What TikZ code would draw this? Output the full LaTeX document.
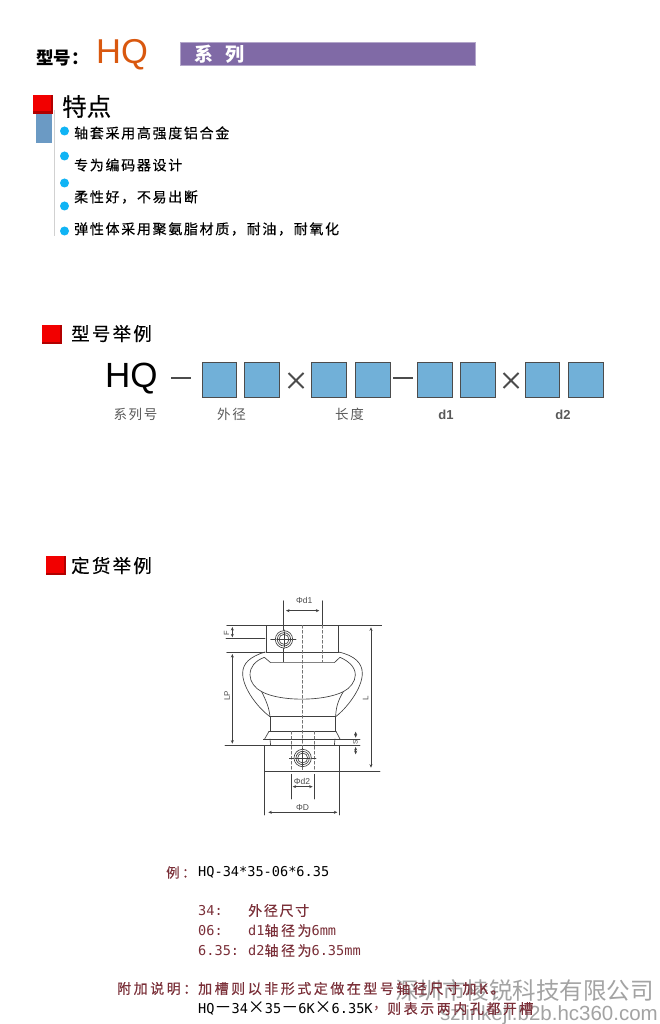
\documentclass[tikz,border=0pt]{standalone}
\usepackage{fontspec}
\setmainfont{Liberation Sans}
\newfontfamily\cjk{Noto Sans CJK SC}
\newfontfamily\cjkb[FakeBold=0.35]{Noto Sans CJK SC}
\newfontfamily\cjksp[LetterSpace=12,FakeBold=0.3]{Noto Sans CJK SC}
\newfontfamily\cjkspw[LetterSpace=18,FakeBold=0.3]{Noto Sans CJK SC}
\newfontfamily\cjklab[LetterSpace=12]{Noto Sans CJK SC}
\newfontfamily\monof{DejaVu Sans Mono}
\newcommand{\fs}[1]{\fontsize{#1}{#1}\selectfont}
\definecolor{lbl}{HTML}{7A2F38}
\definecolor{bar}{HTML}{806AA6}
\definecolor{cell}{HTML}{71B0D8}
\definecolor{bul}{HTML}{10B4F5}
\definecolor{steel}{HTML}{6B9AC4}
\definecolor{hqorange}{HTML}{D9580F}
\tikzset{
 txt/.style={inner sep=0pt,anchor=west,text=black},
 cellbox/.style={draw=black!70,line width=0.8pt,fill=cell,minimum width=34.5pt,minimum height=35pt,inner sep=0pt},
 bullet/.style={circle,fill=bul,minimum size=9pt,inner sep=0pt},
 op/.style={draw=black!70,line width=2.2pt},
 dim/.style={draw=black!75,line width=0.65pt},
 dimarrow/.style={dim,<->,>={Stealth[length=3.5pt,width=3pt]}},
 thin dash/.style={draw=black!55,line width=0.45pt,densely dashed},
 dimlabel/.style={text=black!70,inner sep=0pt},
}
\usetikzlibrary{arrows.meta}
\begin{document}
\begin{tikzpicture}[x=1pt,y=-1pt]
\useasboundingbox (0,0) rectangle (659,1024);
\fill[white] (0,0) rectangle (659,1024);
% header
\node[txt] (model) at (36,58) {\cjk\bfseries\fs{17.5}型号：};
\node[txt,text=hqorange] (hq) at (96,55) {\fs{34.5}HQ};
\node[draw=bar!60,fill=bar,minimum width=295pt,minimum height=23pt,inner sep=0pt,anchor=north west] (bar) at (180,42) {};
\node[txt,text=white] (series) at (194,54.5) {\cjk\bfseries\fs{19}系\hspace{12pt}列};
% features
\fill[black!18] (53.6,110) rectangle (54.8,236);
\fill[steel] (36,114) rectangle (51.5,143);
\newcommand{\redsq}[2]{%
 \fill[red!70!black] (#1,#2) rectangle ++(19.5,19);
 \fill[red!95!black] (#1,#2) rectangle ++(17.8,16.5);}
\redsq{33}{95}
\node[txt] (feat) at (62,106.5) {\cjkb\fs{24.5}特点};
\foreach \n/\y in {a/131,b/156,c/183,d/206,e/231}
  \node[bullet] (b\n) at (64.5,\y) {};
\node[txt] (t1) at (74,133) {\cjksp\fs{14}轴套采用高强度铝合金};
\node[txt] (t2) at (74,165) {\cjksp\fs{14}专为编码器设计};
\node[txt] (t3) at (74,197) {\cjksp\fs{14}柔性好，不易出断};
\node[txt] (t4) at (74,229) {\cjksp\fs{14}弹性体采用聚氨脂材质，耐油，耐氧化};
% model example
\redsq{42}{325}
\node[txt] (s2) at (71,333.5) {\cjksp\fs{18.5}型号举例};
\node[txt] (hq2) at (105,379) {\fs{35}HQ};
\foreach \n/\x in {a/219.5,b/262,c/329,d/373,e/435,f/478,g/542.5,h/586}
  \node[cellbox] (c\n) at (\x,379.5) {};
\coordinate (d1a) at (171,378); \coordinate (d1b) at (191,378);
\draw[op] (d1a) -- (d1b);
\coordinate (d2a) at (393,378); \coordinate (d2b) at (413,378);
\draw[op] (d2a) -- (d2b);
\draw[op,line width=1.9pt] (288.5,373) -- (303.5,388) (303.5,373) -- (288.5,388);
\draw[op,line width=1.9pt] (503.5,373) -- (518.5,388) (518.5,373) -- (503.5,388);
\node[text=black!65,inner sep=0pt] (l1) at (135.5,414.5) {\cjklab\fs{13.5}系列号};
\node[text=black!65,inner sep=0pt] (l2) at (231.5,414.5) {\cjklab\fs{13.5}外径};
\node[text=black!65,inner sep=0pt] (l3) at (349.5,414.5) {\cjklab\fs{13.5}长度};
\node[text=black!65,inner sep=0pt] (l4) at (446,414.5) {\bfseries\fs{13}d1};
\node[text=black!65,inner sep=0pt] (l5) at (563,414.5) {\bfseries\fs{13}d2};
% order example
\redsq{46}{556}
\node[txt] (s3) at (71,565.5) {\cjksp\fs{18.5}定货举例};
% drawing: coordinates are those of a 3x crop at (200,585)
\begin{scope}[shift={(200,585)},x=0.3333pt,y=-0.3333pt,line cap=round]
 % extension lines
 \draw[dim] (250,47) -- (250,230);
 \draw[dim] (366,47) -- (366,120);
 \draw[dimarrow] (258,77) -- (358,77);
 \draw[dim] (80,121) -- (545,121);
 \draw[dim] (80,201) -- (195,201);
 \draw[dim] (78,161) -- (195,161);
 \draw[dim] (413,201) -- (418,201);
 \draw[dimarrow] (97,126) -- (97,157);
 \draw[dimarrow] (97,207) -- (97,476);
 \draw[dimarrow] (513,127) -- (513,548);
 \draw[dim] (75,482) -- (480,482);
 \draw[dim] (195,559) -- (540,559);
 \draw[dim] (190,462) -- (480,462);
 \draw[dimarrow] (467,440) -- (467,458);
 \draw[dimarrow] (467,486) -- (467,508);
 % upper hub
 \draw[dim] (199,121) -- (199,201) (416,121) -- (416,201) (199,201) -- (416,201);
 % body
 \draw[dim] (195,201) .. controls (150,215) and (128,235) .. (128,265)
   .. controls (128,310) and (175,370) .. (210,395);
 \draw[dim] (416,201) .. controls (465,212) and (487,235) .. (487,265)
   .. controls (487,310) and (440,370) .. (407,395);
 \draw[dim] (193,217) .. controls (165,228) and (150,245) .. (150,270)
   .. controls (150,290) and (165,310) .. (185,320)
   .. controls (240,350) and (370,350) .. (430,320)
   .. controls (450,310) and (466,290) .. (466,270)
   .. controls (466,245) and (445,228) .. (420,217);
 \draw[dim] (193,217) -- (212,233) -- (403,233) -- (420,217);
 \draw[dim] (185,320) .. controls (197,345) and (207,365) .. (210,395);
 \draw[dim] (430,320) .. controls (415,345) and (408,365) .. (407,395);
 \draw[dim] (210,395) -- (407,395);
 \draw[dim] (210,395) -- (210,440) (407,395) -- (407,440);
 \draw[dim] (207,439) -- (408,439);
 \draw[dim] (207,439) -- (194,462) (408,439) -- (420,462);
 \draw[dim] (210,462) -- (212,482) (405,462) -- (403,482);
 % lower hub
 \draw[dim] (194,482) -- (194,690) (419,482) -- (419,690);
 % bore lines
 \draw[thin dash] (308,121) -- (308,490);
 \draw[thin dash] (308,545) -- (308,559);
 \draw[thin dash] (366,121) -- (366,230);
 \draw[thin dash] (273,439) -- (273,559) (342,439) -- (342,559);
 \draw[dim] (273,568) -- (273,642) (342,568) -- (342,642);
 \draw[dimarrow] (278,605) -- (338,605);
 \draw[dimarrow] (205,682) -- (412,682);
 % set screws
 \draw[dim] (212,162) -- (288,162) (252,135) -- (252,190);
 \draw[dim,fill=white] (252,163) circle (26);
 \draw[dim] (252,163) circle (20) (252,163) circle (15);
 \draw[dim] (252,140) -- (252,186) (230,163) -- (275,163);
 \draw[dim] (268,519) -- (348,519) (308,490) -- (308,546);
 \draw[dim,fill=white] (308,519) circle (26);
 \draw[dim] (308,519) circle (20) (308,519) circle (15);
 \draw[dim] (308,497) -- (308,542) (285,519) -- (331,519);
 % labels
 \node[dimlabel] (pd1) at (313,47) {\fs{8.5}Φd1};
 \node[dimlabel] (pd2) at (306,588) {\fs{8.5}Φd2};
 \node[dimlabel] (pD) at (308,668) {\fs{8.5}ΦD};
 \node[dimlabel,rotate=90] (lF) at (80,145) {\fs{7.5}F};
 \node[dimlabel,rotate=90] (lLP) at (81,333) {\fs{8}LP};
 \node[dimlabel,rotate=90] (lL) at (497,340) {\fs{8}L};
 \node[dimlabel,rotate=90] (lS) at (466,472) {\fs{6.5}S};
\end{scope}
% notes
\node[txt,text=lbl] (ex) at (166,872.5) {\cjkspw\fs{13.5}例：};
\node[txt] (exv) at (198,872.5) {\monof\fs{13.6}HQ-34*35-06*6.35};
\node[txt,text=lbl] (k1) at (198,910.5) {\monof\fs{13.6}34:};
\node[txt,text=lbl] (v1) at (248,910.5) {\cjksp\fs{14}外径尺寸};
\node[txt,text=lbl] (k2) at (198,930.5) {\monof\fs{13.6}06:};
\node[txt,text=lbl] (v2) at (248,930.5) {\monof\fs{13.6}d1{\cjkspw\fs{14}轴径为}6mm};
\node[txt,text=lbl] (k3) at (198,950.5) {\monof\fs{13.6}6.35:};
\node[txt,text=lbl] (v3) at (248,950.5) {\monof\fs{13.6}d2{\cjkspw\fs{14}轴径为}6.35mm};
\node[txt,text=lbl] (add) at (117,988.5) {\cjkspw\fs{14}附加说明：};
% watermark below the notes it overlaps
\node[txt,text=black!45,opacity=0.8] (w1) at (395,990.5) {\cjk\fs{23.5}深圳市棱锐科技有限公司};
\node[txt,text=black!45,opacity=0.8] (w2) at (440,1015) {\fs{20.5}szlinkeji.b2b.hc360.com};
\node[txt,text=lbl] (add1) at (198,988.5) {\cjkspw\fs{14}加槽则以非形式定做在型号轴径尺寸加K。};
\node[txt] (add2a) at (198,1008.5) {\monof\fs{13.6}HQ{\cjk\fs{17}－}34{\cjk\fs{17}×}35{\cjk\fs{17}－}6K{\cjk\fs{17}×}6.35K};
\node[txt,text=lbl] (add2b) at (373,1008.5) {\cjk\fs{14}，};
\node[txt,text=lbl] (add2c) at (387,1008.5) {\cjkspw\fs{14}则表示两内孔都开槽};
\end{tikzpicture}
\end{document}
